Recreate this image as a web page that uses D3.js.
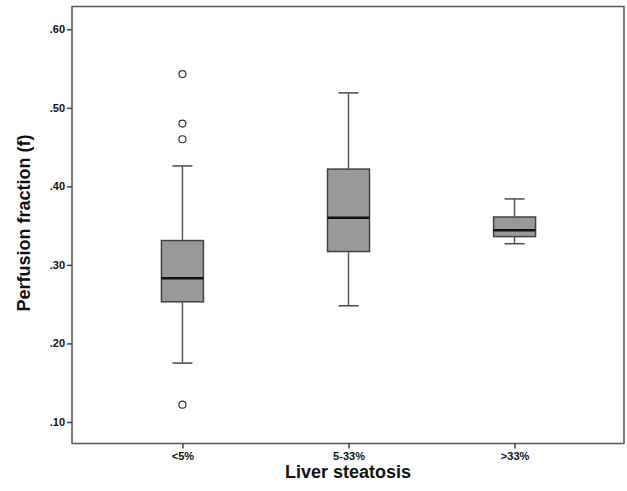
<!DOCTYPE html>
<html>
<head>
<meta charset="utf-8">
<script src="https://cdn.jsdelivr.net/npm/d3@7"></script>
<style>
  body { margin: 0; background: #fff; }
  svg { display: block; }
</style>
</head>
<body>
<div id="chart"></div>
<script>
(function () {
  // data
  const categories = ['<5%', '5-33%', '>33%'];
  const lowerWhisker = [0.175, 0.248, 0.327];
  const q1 = [0.253, 0.317, 0.336];
  const median = [0.283, 0.36, 0.344];
  const q3 = [0.331, 0.422, 0.361];
  const upperWhisker = [0.426, 0.519, 0.384];
  const outliers = [[0.543, 0.48, 0.46, 0.122], [], []];
  const yTicks = [0.1, 0.2, 0.3, 0.4, 0.5, 0.6];

  const width = 627,
    height = 491;
  const margin = { top: 6.5, right: 3, bottom: 47.5, left: 72 };

  const boxes = categories.map((c, i) => ({
    name: c,
    lo: lowerWhisker[i],
    q1: q1[i],
    med: median[i],
    q3: q3[i],
    hi: upperWhisker[i],
    out: outliers[i]
  }));

  const svg = d3
    .select('#chart')
    .append('svg')
    .attr('width', width)
    .attr('height', height);

  const xPositionScale = d3
    .scalePoint()
    .domain(categories)
    .range([margin.left, width - margin.right + 1])
    .padding(0.665);

  const yPositionScale = d3
    .scaleLinear()
    .domain([0.0726, 0.629])
    .range([height - margin.bottom, margin.top]);

  const boxWidth = 42,
    capWidth = 20;
  const font = "'Liberation Sans', Arial, Helvetica, sans-serif";

  const g = svg
    .selectAll('.box')
    .data(boxes)
    .enter()
    .append('g')
    .attr('class', 'box')
    .attr('transform', (d) => `translate(${xPositionScale(d.name)},0)`);

  // whisker stems
  g.append('line')
    .attr('x1', 0)
    .attr('x2', 0)
    .attr('y1', (d) => yPositionScale(d.hi))
    .attr('y2', (d) => yPositionScale(d.lo))
    .attr('stroke', '#5a5a5a')
    .attr('stroke-width', 1.5);

  // caps
  ['lo', 'hi'].forEach(function (k) {
    g.append('line')
      .attr('x1', -capWidth / 2)
      .attr('x2', capWidth / 2)
      .attr('y1', (d) => yPositionScale(d[k]))
      .attr('y2', (d) => yPositionScale(d[k]))
      .attr('stroke', '#4a4a4a')
      .attr('stroke-width', 1.5);
  });

  g.append('rect')
    .attr('x', -boxWidth / 2)
    .attr('width', boxWidth)
    .attr('y', (d) => yPositionScale(d.q3))
    .attr('height', (d) => yPositionScale(d.q1) - yPositionScale(d.q3))
    .attr('fill', '#999999')
    .attr('stroke', '#444')
    .attr('stroke-width', 1.5);

  g.append('line')
    .attr('x1', -boxWidth / 2)
    .attr('x2', boxWidth / 2)
    .attr('y1', (d) => yPositionScale(d.med))
    .attr('y2', (d) => yPositionScale(d.med))
    .attr('stroke', '#111')
    .attr('stroke-width', 2.5);

  g.selectAll('circle')
    .data((d) => d.out)
    .enter()
    .append('circle')
    .attr('cx', 0)
    .attr('cy', (d) => yPositionScale(d))
    .attr('r', 3.5)
    .attr('fill', '#fff')
    .attr('stroke', '#333')
    .attr('stroke-width', 1.2);

  // frame
  svg
    .append('rect')
    .attr('x', margin.left)
    .attr('y', margin.top)
    .attr('width', width - margin.right - margin.left)
    .attr('height', height - margin.bottom - margin.top)
    .attr('fill', 'none')
    .attr('stroke', '#555')
    .attr('stroke-width', 1.5);

  const yAxis = d3
    .axisLeft(yPositionScale)
    .tickValues(yTicks)
    .tickSize(5)
    .tickPadding(2)
    .tickFormat((d) => d3.format('.2f')(d).replace(/^0/, ''));
  svg
    .append('g')
    .attr('class', 'axis y-axis')
    .attr('transform', `translate(${margin.left},0)`)
    .call(yAxis)
    .call((s) => s.select('.domain').remove())
    .call((s) => s.selectAll('line').attr('stroke', '#444').attr('stroke-width', 1.5))
    .call((s) =>
      s.selectAll('text')
        .style('font-family', font)
        .style('font-size', '11px')
        .style('font-weight', 'bold')
        .attr('fill', '#111')
    );

  const xAxis = d3.axisBottom(xPositionScale).tickSize(5).tickPadding(4);
  svg
    .append('g')
    .attr('class', 'axis x-axis')
    .attr('transform', `translate(0,${height - margin.bottom})`)
    .call(xAxis)
    .call((s) => s.select('.domain').remove())
    .call((s) => s.selectAll('line').attr('stroke', '#444').attr('stroke-width', 1.5))
    .call((s) =>
      s.selectAll('text')
        .style('font-family', font)
        .style('font-size', '11px')
        .style('font-weight', 'bold')
        .attr('fill', '#111')
    );

  svg
    .append('text')
    .attr('x', 348)
    .attr('y', 478)
    .attr('text-anchor', 'middle')
    .style('font-family', font)
    .style('font-size', '18px')
    .style('font-weight', 'bold')
    .attr('fill', '#111')
    .text('Liver steatosis');

  svg
    .append('text')
    .attr('transform', 'translate(30,223) rotate(-90)')
    .attr('text-anchor', 'middle')
    .style('font-family', font)
    .style('font-size', '18px')
    .style('font-weight', 'bold')
    .attr('fill', '#111')
    .text('Perfusion fraction (f)');
})();
</script>
</body>
</html>
